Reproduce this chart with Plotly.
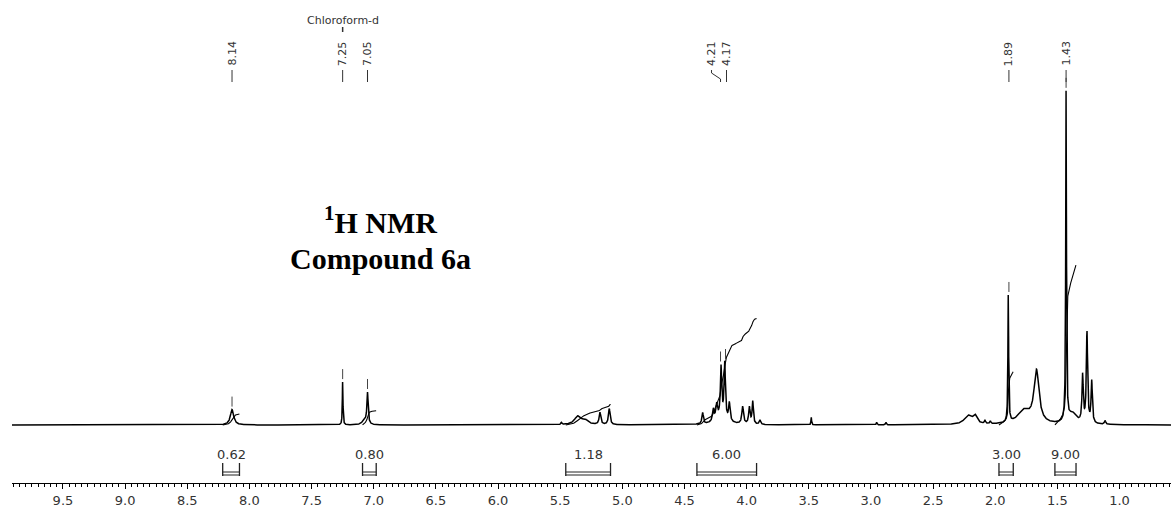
import numpy as np
import plotly.graph_objects as go

# ---------------- data ----------------
# peak list: centre (ppm), height (relative intensity, 1.43 ppm peak ~ 100), half-width (ppm)
peak_ppm = [8.14, 7.25, 7.05, 7.075, 5.49, 5.36, 5.30, 5.18, 5.105,
            4.354, 4.268, 4.241, 4.206, 4.176, 4.139, 4.20, 4.032, 3.978, 3.951, 3.893,
            3.48, 2.954, 2.879, 2.22, 2.163, 2.083, 2.04,
            1.895, 1.77, 1.668, 1.43, 1.38, 1.297, 1.262, 1.224, 1.117]
peak_height = [4.6, 13.0, 9.3, 1.4, 0.6, 2.5, 1.3, 3.6, 4.8,
               3.4, 3.6, 4.4, 14.5, 16.2, 5.4, 2.6, 5.2, 5.0, 6.8, 1.3,
               2.3, 0.8, 0.8, 2.6, 2.4, 1.0, 0.8,
               38.5, 4.0, 15.5, 98.5, 3.2, 14.0, 27.0, 12.5, 1.1]
peak_width = [0.016, 0.003, 0.006, 0.02, 0.005, 0.03, 0.03, 0.008, 0.008,
              0.007, 0.008, 0.008, 0.006, 0.006, 0.007, 0.05, 0.008, 0.007, 0.006, 0.007,
              0.003, 0.004, 0.004, 0.035, 0.02, 0.005, 0.005,
              0.0035, 0.06, 0.024, 0.0035, 0.04, 0.006, 0.006, 0.006, 0.006]

# labelled peaks (top)
label_ppm = [8.14, 7.25, 7.05, 4.21, 4.17, 1.89, 1.43]
label_text = ["8.14", "7.25", "7.05", "4.21", "4.17", "1.89", "1.43"]
solvent_ppm = 7.25
solvent_name = "Chloroform-d"

# integrals
int_start = [8.215, 7.09, 5.455, 4.40, 1.97, 1.52]
int_end = [8.08, 6.98, 5.095, 3.92, 1.855, 1.35]
int_value = [0.62, 0.80, 1.18, 6.00, 3.00, 9.00]
int_text = ["0.62", "0.80", "1.18", "6.00", "3.00", "9.00"]

# axis
x_left, x_right = 9.91, 0.586

# ---------------- layout helpers ----------------
W, H = 1171, 512
ML, MB = 12, 29
PH = H - MB                      # plot area height (px)
baseline_px = 425                # y pixel of zero intensity
S = 3.35                         # px per intensity unit
y_lo = -(PH - baseline_px) / S
y_hi = baseline_px / S
units_per_H = 5.3


def py(ypix):
    return (PH - ypix) / PH


ppm = np.linspace(x_left, x_right, 9400)
spec = np.zeros_like(ppm)
for c, h, w in zip(peak_ppm, peak_height, peak_width):
    spec += h / (1.0 + ((ppm - c) / w) ** 2)

fig = go.Figure()
fig.add_trace(go.Scatter(x=ppm, y=spec, mode="lines",
                         line=dict(color="black", width=1.5), hoverinfo="skip"))

# integral curves
for a, b, v in zip(int_start, int_end, int_value):
    m = (ppm <= a) & (ppm >= b)
    cs = np.cumsum(spec[m])
    cs = cs / cs[-1] * v * units_per_H
    fig.add_trace(go.Scatter(x=ppm[m], y=cs, mode="lines",
                             line=dict(color="black", width=1.1), hoverinfo="skip"))

# small markers above labelled peaks
mx, my = [], []
for p in label_ppm:
    win = (ppm <= p + 0.006) & (ppm >= p - 0.006)
    v = spec[win].max()
    mx += [p, p, None]
    my += [v + 3 / S, v + 13 / S, None]
fig.add_trace(go.Scatter(x=mx, y=my, mode="lines",
                         line=dict(color="#444", width=1), hoverinfo="skip"))

annotations = []
shapes = []
lab_font = dict(family="DejaVu Sans", size=11, color="#333")
px_per_ppm = (W - ML) / (x_left - x_right)
for p, t in zip(label_ppm, label_text):
    dx = 0.0
    if t == "4.21":
        dx = 9.0 / px_per_ppm      # shift label left (higher ppm)
    if t == "4.17":
        dx = -1.0 / px_per_ppm
    lx = p + dx
    annotations.append(dict(x=lx, y=py(68), xref="x", yref="paper", text=t,
                            textangle=-90, showarrow=False, xanchor="center",
                            yanchor="bottom", font=lab_font))
    if dx == 0.0 or t == "4.17":
        shapes.append(dict(type="line", xref="x", yref="paper", x0=lx, x1=lx,
                           y0=py(70), y1=py(82), line=dict(color="#333", width=1)))
    else:
        shapes.append(dict(type="path", xref="x", yref="paper",
                           path=f"M {lx},{py(70)} L {lx},{py(73)} L {p},{py(79)} L {p},{py(82)}",
                           line=dict(color="#333", width=1)))

# solvent label
annotations.append(dict(x=solvent_ppm, y=py(20), xref="x", yref="paper", text=solvent_name,
                        showarrow=False, xanchor="center", yanchor="middle",
                        font=dict(family="DejaVu Sans", size=11, color="#333")))
shapes.append(dict(type="line", xref="x", yref="paper", x0=solvent_ppm, x1=solvent_ppm,
                   y0=py(27), y1=py(32), line=dict(color="#333", width=1.5)))

# integral brackets
for a, b, t in zip(int_start, int_end, int_text):
    annotations.append(dict(x=(a + b) / 2, y=py(454), xref="x", yref="paper", text=t,
                            showarrow=False, xanchor="center", yanchor="middle",
                            font=dict(family="DejaVu Sans", size=13, color="#333")))
    for yy in (472, 475):
        shapes.append(dict(type="line", xref="x", yref="paper", x0=a, x1=b,
                           y0=py(yy), y1=py(yy), line=dict(color="#222", width=1)))
    for xx in (a, b):
        shapes.append(dict(type="line", xref="x", yref="paper", x0=xx, x1=xx,
                           y0=py(463), y1=py(476), line=dict(color="#222", width=1.3)))

# title
title_x = (380 - ML) / (W - ML)
annotations.append(dict(x=title_x, y=py(220), xref="paper", yref="paper",
                        text="<b><sup>1</sup>H NMR</b>", showarrow=False,
                        xanchor="center", yanchor="middle",
                        font=dict(family="Liberation Serif", size=30, color="black")))
annotations.append(dict(x=title_x, y=py(259), xref="paper", yref="paper",
                        text="<b>Compound 6a</b>", showarrow=False,
                        xanchor="center", yanchor="middle",
                        font=dict(family="Liberation Serif", size=30, color="black")))

fig.update_layout(
    width=W, height=H,
    margin=dict(l=ML, r=0, t=0, b=MB),
    paper_bgcolor="white", plot_bgcolor="white",
    showlegend=False,
    annotations=annotations, shapes=shapes,
    xaxis=dict(range=[x_left, x_right], showgrid=False, zeroline=False,
               showline=True, linecolor="black", linewidth=1,
               ticks="outside", ticklen=5, tickcolor="black", tickwidth=1,
               dtick=0.5, tick0=0, tickformat=".1f",
               tickfont=dict(family="DejaVu Sans", size=13, color="#333"),
               minor=dict(dtick=0.05, tick0=0, ticks="outside", ticklen=3,
                          tickcolor="black", tickwidth=1, showgrid=False)),
    yaxis=dict(range=[y_lo, y_hi], visible=False, fixedrange=True),
)

fig.write_html("out.html")
